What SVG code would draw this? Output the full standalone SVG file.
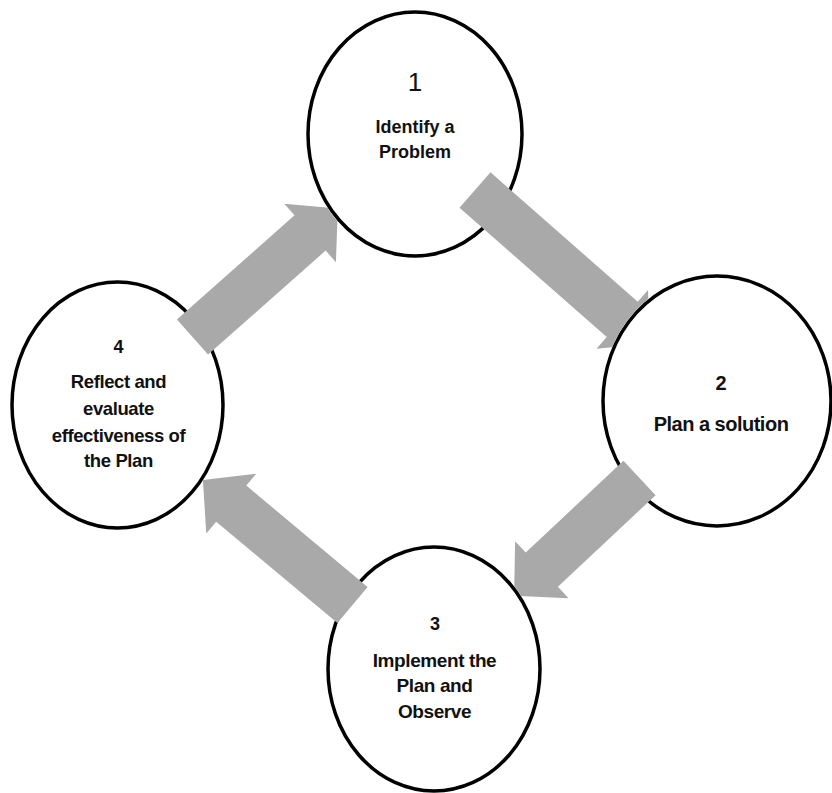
<svg xmlns="http://www.w3.org/2000/svg" width="832" height="793" viewBox="0 0 832 793">
  <style>
    .node ellipse { fill: #ffffff; stroke: #000000; stroke-width: 3.5; }
    .node text { font-family: "Liberation Sans", Arial, sans-serif; font-weight: bold; fill: #111111; text-anchor: middle; }
    .arrow { fill: #a9a9a9; stroke: none; }
  </style>
  <defs>
    <!-- each arrow is hidden where it runs under the circle it points into -->
    <clipPath id="outside-n1"><path clip-rule="evenodd" d="M0 0H832V793H0Z M306 134a109 124 0 1 0 218 0a109 124 0 1 0 -218 0Z"/></clipPath>
    <clipPath id="outside-n2"><path clip-rule="evenodd" d="M0 0H832V793H0Z M601 401a116 127 0 1 0 232 0a116 127 0 1 0 -232 0Z"/></clipPath>
    <clipPath id="outside-n3"><path clip-rule="evenodd" d="M0 0H832V793H0Z M326 669a108 124 0 1 0 216 0a108 124 0 1 0 -216 0Z"/></clipPath>
    <clipPath id="outside-n4"><path clip-rule="evenodd" d="M0 0H832V793H0Z M10 405a107.5 125 0 1 0 215 0a107.5 125 0 1 0 -215 0Z"/></clipPath>
  </defs>
  <rect width="832" height="793" fill="#ffffff"/>

  <g id="node-1" class="node">
    <ellipse cx="415" cy="134" rx="107" ry="122"/>
    <text x="415" y="91" font-size="26" style="font-weight:normal">1</text>
    <text x="415" y="133" font-size="18">Identify a</text>
    <text x="415" y="158" font-size="18">Problem</text>
  </g>
  <g id="node-2" class="node">
    <ellipse cx="717" cy="401" rx="114" ry="125"/>
    <text x="721" y="390" font-size="20">2</text>
    <text x="721" y="431" font-size="20" letter-spacing="-0.5">Plan a solution</text>
  </g>
  <g id="node-3" class="node">
    <ellipse cx="434" cy="669" rx="106" ry="122"/>
    <text x="435" y="630" font-size="18">3</text>
    <text x="434.5" y="667" font-size="19" letter-spacing="-0.4">Implement the</text>
    <text x="434.5" y="692" font-size="19" letter-spacing="-0.4">Plan and</text>
    <text x="434.5" y="718" font-size="19" letter-spacing="-0.4">Observe</text>
  </g>
  <g id="node-4" class="node">
    <ellipse cx="117.5" cy="405" rx="105.5" ry="123"/>
    <text x="118.5" y="353" font-size="18">4</text>
    <text x="118.5" y="388" font-size="18.5" letter-spacing="-0.4">Reflect and</text>
    <text x="118.5" y="415" font-size="18.5" letter-spacing="-0.4">evaluate</text>
    <text x="118.5" y="442" font-size="18.5" letter-spacing="-0.4">effectiveness of</text>
    <text x="118.5" y="467" font-size="18.5" letter-spacing="-0.4">the Plan</text>
  </g>

  <g id="connectors">
    <g id="arrow-1-2" clip-path="url(#outside-n2)">
      <polygon class="arrow" transform="translate(475 190) rotate(41.3)" points="0,-23.5 196,-23.5 196,-39 233,0 196,39 196,23.5 0,23.5"/>
    </g>
    <g id="arrow-2-3" clip-path="url(#outside-n3)">
      <polygon class="arrow" transform="translate(639.5 478) rotate(136.8)" points="0,-23.5 134,-23.5 134,-39 172,0 134,39 134,23.5 0,23.5"/>
    </g>
    <g id="arrow-3-4" clip-path="url(#outside-n4)">
      <polygon class="arrow" transform="translate(352.5 605) rotate(219.9)" points="0,-23.5 158,-23.5 158,-39 195,0 158,39 158,23.5 0,23.5"/>
    </g>
    <g id="arrow-4-1" clip-path="url(#outside-n1)">
      <polygon class="arrow" transform="translate(192.5 337) rotate(-41.5)" points="0,-23.5 157,-23.5 157,-39 194,0 157,39 157,23.5 0,23.5"/>
    </g>
  </g>
</svg>
